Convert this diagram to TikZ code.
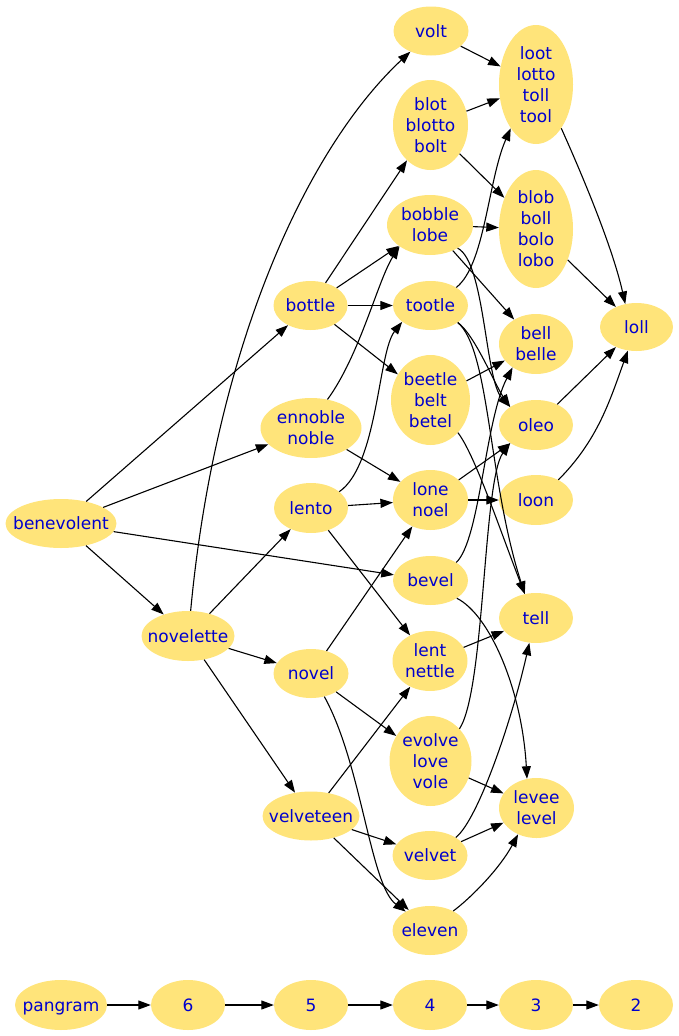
\documentclass[tikz,border=0pt]{standalone}
\usepackage{fontspec}
\usetikzlibrary{shapes.geometric, arrows.meta}
\newfontfamily\wordfont{DejaVu Sans}
\definecolor{wordfill}{RGB}{255,228,122}
\definecolor{wordink}{RGB}{0,0,205}
\newcommand{\wordlines}[1]{\makebox[0pt]{\smash{\raisebox{-6.25pt}{\begin{tabular}{@{}c@{}}#1\end{tabular}}}}}
\tikzset{
    anagram/.style={ellipse, fill=wordfill, text=wordink, inner sep=0pt,
        minimum width=74pt, minimum height=49pt,
        font=\wordfont\fontsize{17pt}{21pt}\selectfont},
    link/.style={-{Triangle[length=12.5pt,width=9pt]}, line width=1.1pt}
}
\begin{document}
\begin{tikzpicture}[x=1pt, y=-1pt]
        \useasboundingbox (0, 0) rectangle (679, 1036);
        % pangram column and the six letter word
        \node[anagram, minimum width=111pt] (benevolent) at (61, 523.5) {\wordlines{benevolent}};
        \node[anagram, minimum width=93pt, minimum height=50pt] (novelette) at (188, 636) {\wordlines{novelette}};
        % five letters
        \node[anagram] (bottle) at (310.5, 305.5) {\wordlines{bottle}};
        \node[anagram, minimum width=101pt, minimum height=60pt] (ennoble) at (311, 428) {\wordlines{ennoble\\noble}};
        \node[anagram, minimum height=50pt] (lento) at (311, 508) {\wordlines{lento}};
        \node[anagram, minimum width=75pt] (novel) at (311, 673.5) {\wordlines{novel}};
        \node[anagram, minimum width=97pt] (velveteen) at (311, 816) {\wordlines{velveteen}};
        % four letters
        \node[anagram, minimum width=75pt] (volt) at (431, 31) {\wordlines{volt}};
        \node[anagram, minimum width=75pt, minimum height=90pt] (blot) at (430.5, 125) {\wordlines{blot\\blotto\\bolt}};
        \node[anagram, minimum width=86pt, minimum height=60pt] (bobble) at (430, 225) {\wordlines{bobble\\lobe}};
        \node[anagram, minimum width=75pt] (tootle) at (430.5, 305.5) {\wordlines{tootle}};
        \node[anagram, minimum width=79pt, minimum height=90pt] (beetle) at (430.5, 400) {\wordlines{beetle\\belt\\betel}};
        \node[anagram, minimum width=75pt, minimum height=60pt] (lone) at (430.5, 500) {\wordlines{lone\\noel}};
        \node[anagram, minimum width=75pt] (bevel) at (430.5, 580.5) {\wordlines{bevel}};
        \node[anagram, minimum width=75pt, minimum height=60pt] (lent) at (430, 661) {\wordlines{lent\\nettle}};
        \node[anagram, minimum width=82pt, minimum height=90pt] (evolve) at (430.5, 761) {\wordlines{evolve\\love\\vole}};
        \node[anagram, minimum width=75pt] (velvet) at (430, 855.5) {\wordlines{velvet}};
        \node[anagram, minimum width=75pt] (eleven) at (430, 930.5) {\wordlines{eleven}};
        % three letters
        \node[anagram, minimum height=119pt] (loot) at (536, 84.5) {\wordlines{loot\\lotto\\toll\\tool}};
        \node[anagram, minimum height=118pt] (blob) at (536, 229) {\wordlines{blob\\boll\\bolo\\lobo}};
        \node[anagram, minimum height=60pt] (bell) at (536, 344) {\wordlines{bell\\belle}};
        \node[anagram, minimum height=50pt] (oleo) at (536, 425) {\wordlines{oleo}};
        \node[anagram, minimum height=50pt] (loon) at (536, 500) {\wordlines{loon}};
        \node[anagram, minimum height=50pt] (tell) at (536, 618) {\wordlines{tell}};
        \node[anagram, minimum width=75pt, minimum height=60pt] (levee) at (536.5, 808) {\wordlines{levee\\level}};
        % two letters
        \node[anagram, minimum width=73pt, minimum height=48pt] (loll) at (636.5, 327) {\wordlines{loll}};
        % legend row
        \node[anagram, minimum width=92pt, minimum height=50pt] (pangram) at (61, 1005) {\wordlines{pangram}};
        \node[anagram, minimum height=50pt] (six) at (188, 1005) {\wordlines{6}};
        \node[anagram, minimum height=50pt] (five) at (311, 1005) {\wordlines{5}};
        \node[anagram, minimum height=50pt] (four) at (430, 1005) {\wordlines{4}};
        \node[anagram, minimum height=50pt] (three) at (536, 1005) {\wordlines{3}};
        \node[anagram, minimum height=50pt] (two) at (636, 1005) {\wordlines{2}};

        \draw[link] (benevolent) -- (bottle);
        \draw[link] (benevolent) -- (ennoble);
        \draw[link] (benevolent) -- (novelette);
        \draw[link] (benevolent) -- (bevel);
        \draw[link] (novelette.84) .. controls (215, 350) and (305, 150) .. (volt.225);
        \draw[link] (novelette) -- (lento);
        \draw[link] (novelette) -- (novel);
        \draw[link] (novelette) -- (velveteen);

        \draw[link] (bottle) -- (blot);
        \draw[link] (bottle) -- (bobble);
        \draw[link] (bottle) -- (tootle);
        \draw[link] (bottle) -- (beetle);
        \draw[link] (ennoble.60) .. controls (360, 355) and (378, 280) .. (bobble.215);
        \draw[link] (ennoble) -- (lone);
        \draw[link] (lento.30) .. controls (378, 465) and (378, 352) .. (tootle.210);
        \draw[link] (lento) -- (lone);
        \draw[link] (lento) -- (lent);
        \draw[link] (novel) -- (lone);
        \draw[link] (novel) -- (evolve);
        \draw[link] (novel.-60) .. controls (362, 765) and (370, 885) .. (eleven.142);
        \draw[link] (velveteen) -- (lent);
        \draw[link] (velveteen) -- (velvet);
        \draw[link] (velveteen) -- (eleven);

        \draw[link] (volt) -- (loot);
        \draw[link] (blot) -- (loot);
        \draw[link] (blot) -- (blob);
        \draw[link] (bobble) -- (blob);
        \draw[link] (bobble) -- (bell);
        \draw[link] (bobble.-40) .. controls (485, 262) and (485, 380) .. (oleo.145);
        \draw[link] (tootle.35) .. controls (485, 265) and (488, 180) .. (loot.240);
        \draw[link] (tootle.-32) .. controls (475, 335) and (495, 385) .. (oleo.145);
        \draw[link] (tootle.-32) .. controls (490, 350) and (488, 480) .. (tell.115);
        \draw[link] (beetle) -- (bell);
        \draw[link] (beetle.-50) .. controls (475, 455) and (500, 530) .. (tell.115);
        \draw[link] (lone) -- (oleo);
        \draw[link] (lone) -- (loon);
        \draw[link] (bevel.35) .. controls (480, 540) and (485, 420) .. (bell.225);
        \draw[link] (bevel.-34) .. controls (490, 615) and (522, 690) .. (levee.108);
        \draw[link] (lent) -- (tell);
        \draw[link] (evolve.48) .. controls (485, 690) and (483, 480) .. (oleo.215);
        \draw[link] (evolve) -- (levee);
        \draw[link] (velvet.35) .. controls (478, 820) and (512, 720) .. (tell.-105);
        \draw[link] (velvet) -- (levee);
        \draw[link] (eleven.40) .. controls (472, 897) and (500, 868) .. (levee.235);

        \draw[link] (loot.-60) .. controls (580, 170) and (612, 245) .. (loll.116);
        \draw[link] (blob) -- (loll);
        \draw[link] (oleo) -- (loll);
        \draw[link] (loon.42) .. controls (598, 440) and (610, 400) .. (loll.-110);

        \draw[link] (pangram) -- (six);
        \draw[link] (six) -- (five);
        \draw[link] (five) -- (four);
        \draw[link] (four) -- (three);
        \draw[link] (three) -- (two);
\end{tikzpicture}
\end{document}
